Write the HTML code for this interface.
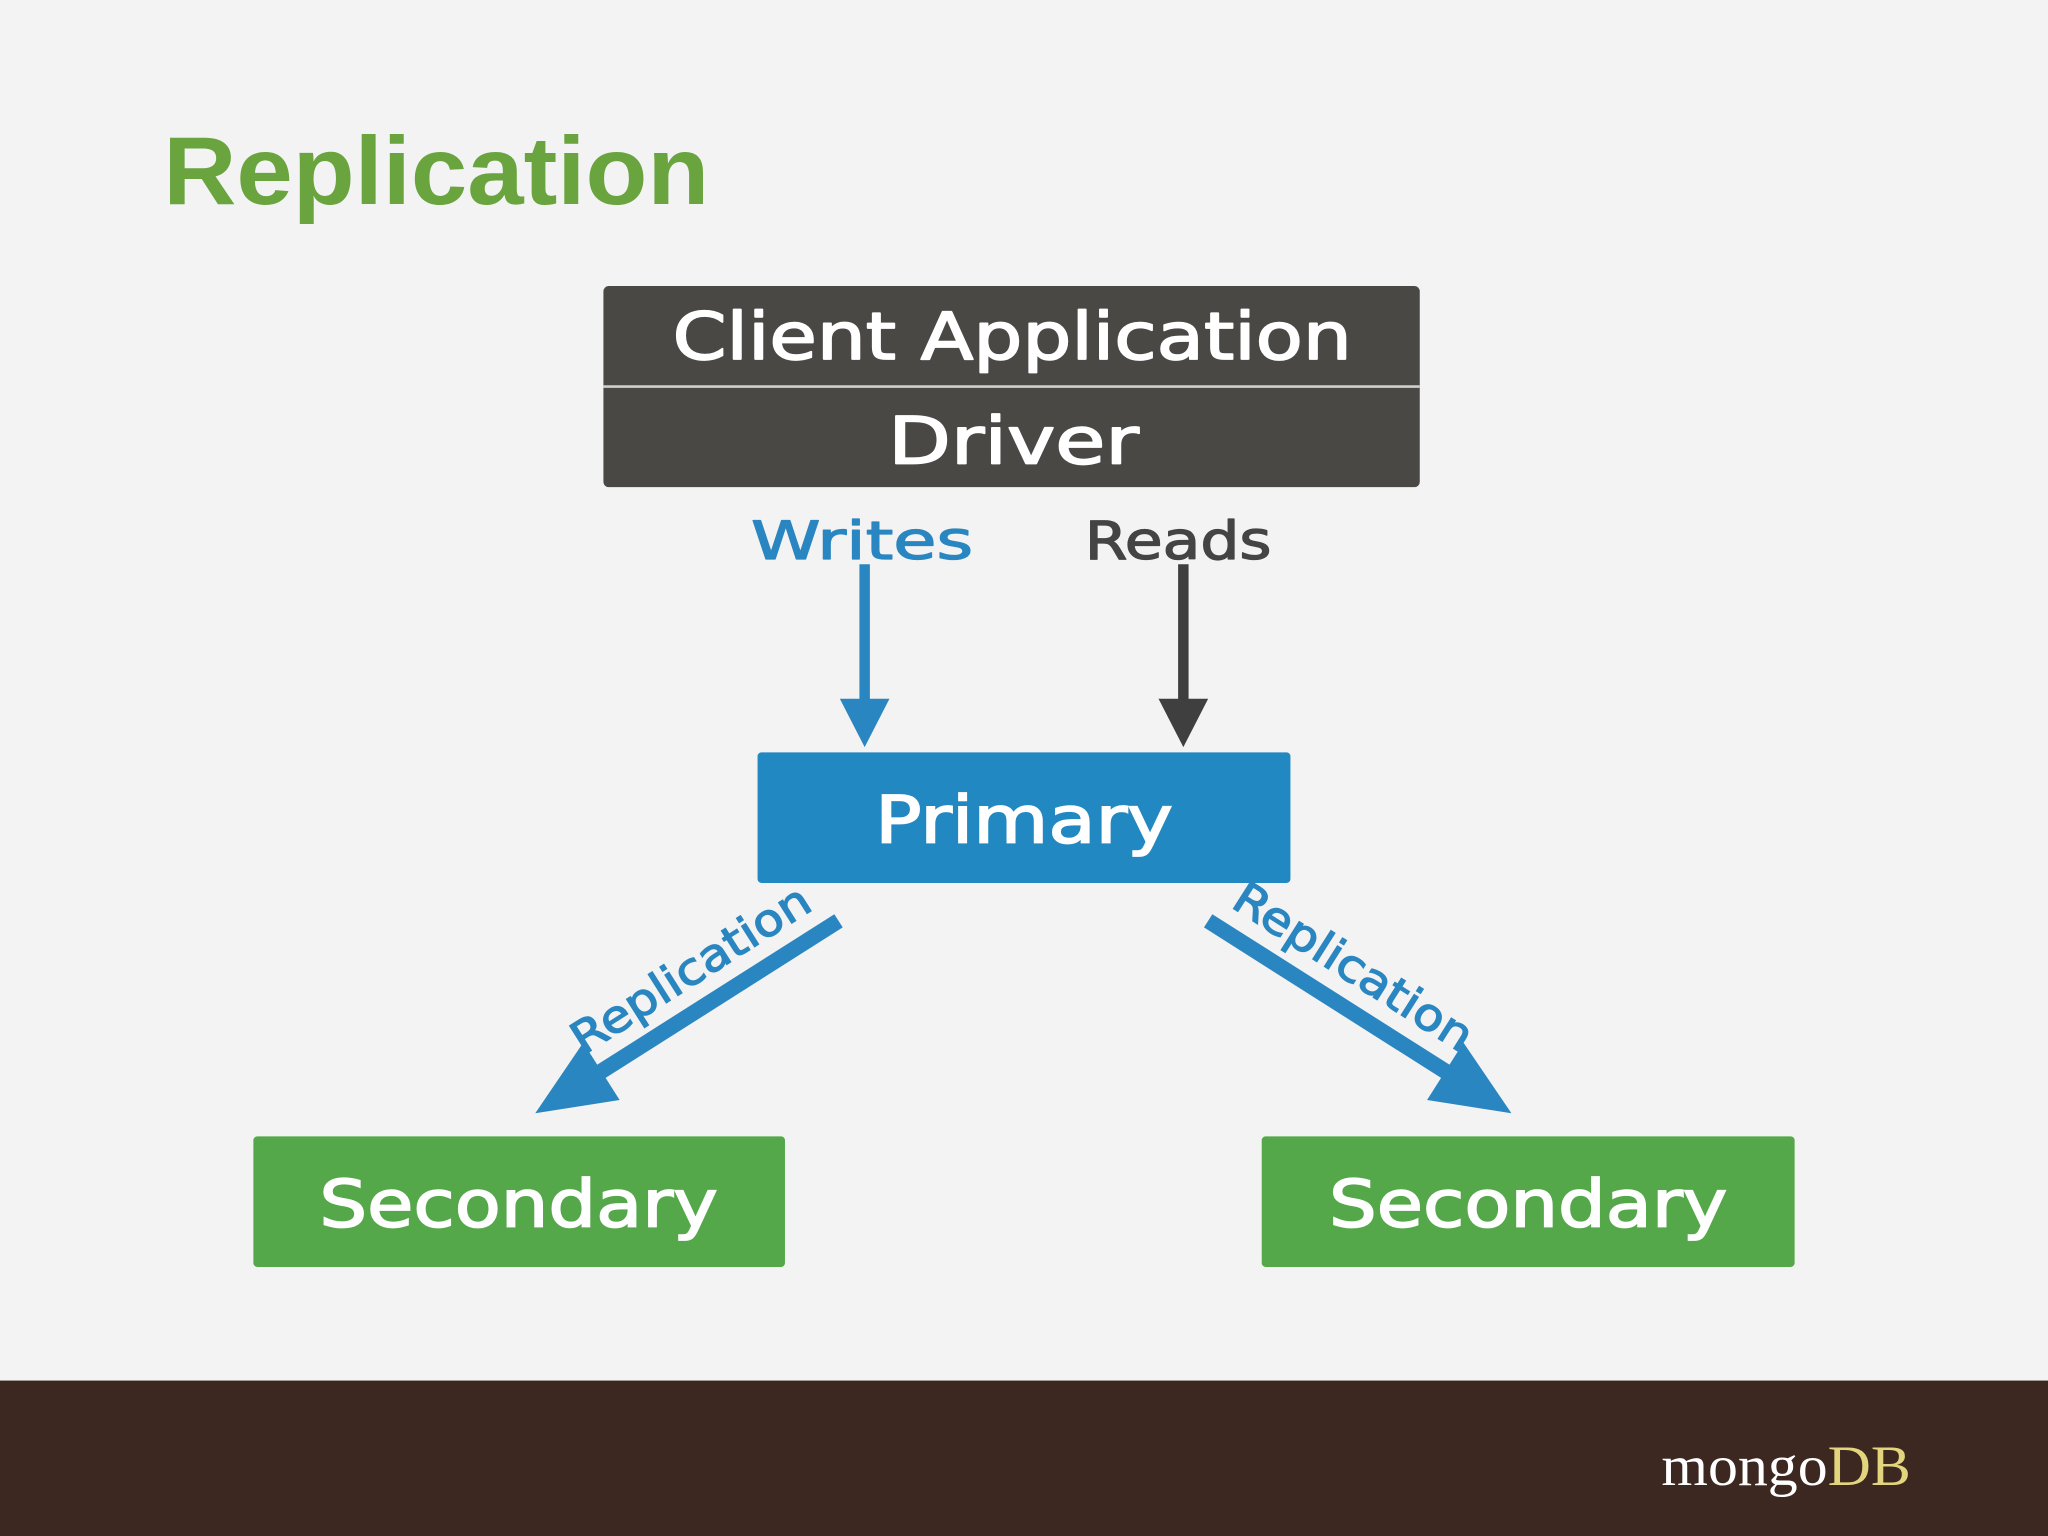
<!DOCTYPE html>
<html><head><meta charset="utf-8"><style>
html,body{margin:0;padding:0;background:#f3f3f3;}
svg{display:block;}
</style></head><body>
<svg width="2048" height="1536" viewBox="0 0 1568 1176" xmlns="http://www.w3.org/2000/svg">
<rect x="0" y="0" width="1568" height="1176" fill="#f3f3f3"/>
<rect x="0" y="1057" width="1568" height="119" fill="#3c2820"/>
<text x="125" y="156" font-family="Liberation Sans, sans-serif" font-weight="bold" font-size="74" fill="#6aa43f" textLength="418" lengthAdjust="spacingAndGlyphs">Replication</text>

<rect x="462" y="219" width="625" height="154" rx="4" fill="#4a4845"/>
<line x1="462" y1="296" x2="1087" y2="296" stroke="#cfcfcf" stroke-width="2"/>
<g font-family="DejaVu Sans, sans-serif" stroke-linejoin="round">
<text x="775" y="275" text-anchor="middle" font-size="50" fill="#fff" stroke="#fff" stroke-width="1.3" textLength="520" lengthAdjust="spacingAndGlyphs">Client Application</text>
<text x="776" y="355" text-anchor="middle" font-size="50" fill="#fff" stroke="#fff" stroke-width="1.3" textLength="192" lengthAdjust="spacingAndGlyphs">Driver</text>

<text x="660" y="428" text-anchor="middle" font-size="40" fill="#2a86c0" stroke="#2a86c0" stroke-width="1" textLength="170" lengthAdjust="spacingAndGlyphs">Writes</text>
<text x="902" y="428" text-anchor="middle" font-size="40" fill="#444" stroke="#444" stroke-width="1" textLength="143" lengthAdjust="spacingAndGlyphs">Reads</text>
</g>
<line x1="662" y1="432" x2="662" y2="540" stroke="#2a86c0" stroke-width="8"/>
<polygon points="643,535 681,535 662,572" fill="#2a86c0"/>
<line x1="906" y1="432" x2="906" y2="540" stroke="#3f3f3f" stroke-width="8"/>
<polygon points="887,535 925,535 906,572" fill="#3f3f3f"/>

<rect x="580" y="576" width="408" height="100" rx="3" fill="#2288c2"/>
<text x="784" y="645" text-anchor="middle" font-family="DejaVu Sans, sans-serif" font-size="50" fill="#fff" stroke="#fff" stroke-width="1.3" textLength="228" lengthAdjust="spacingAndGlyphs">Primary</text>

<g transform="translate(642,705) rotate(147.6)">
<rect x="0" y="-6" width="225" height="12" fill="#2a86c0"/>
<polygon points="215,-26 215,26 275,0" fill="#2a86c0"/>
</g>
<g transform="translate(925,705) rotate(32.4)">
<rect x="0" y="-6" width="225" height="12" fill="#2a86c0"/>
<polygon points="215,-26 215,26 275,0" fill="#2a86c0"/>
</g>
<text transform="translate(535,752) rotate(-32.4)" text-anchor="middle" font-family="DejaVu Sans, sans-serif" font-size="34" fill="#2a86c0" stroke="#2a86c0" stroke-width="1" textLength="210" lengthAdjust="spacingAndGlyphs">Replication</text>
<text transform="translate(1030,750) rotate(32.4)" text-anchor="middle" font-family="DejaVu Sans, sans-serif" font-size="34" fill="#2a86c0" stroke="#2a86c0" stroke-width="1" textLength="210" lengthAdjust="spacingAndGlyphs">Replication</text>

<rect x="194" y="870" width="407" height="100" rx="3" fill="#55a84a"/>
<text x="397" y="939" text-anchor="middle" font-family="DejaVu Sans, sans-serif" font-size="50" fill="#fff" stroke="#fff" stroke-width="1.3" textLength="305" lengthAdjust="spacingAndGlyphs">Secondary</text>
<rect x="966" y="870" width="408" height="100" rx="3" fill="#55a84a"/>
<text x="1170" y="939" text-anchor="middle" font-family="DejaVu Sans, sans-serif" font-size="50" fill="#fff" stroke="#fff" stroke-width="1.3" textLength="305" lengthAdjust="spacingAndGlyphs">Secondary</text>

<text x="1272" y="1137" font-family="Liberation Serif, serif" font-size="44" fill="#fff" textLength="191" lengthAdjust="spacingAndGlyphs">mongo<tspan fill="#e3d57e">DB</tspan></text>
</svg>
</body></html>
